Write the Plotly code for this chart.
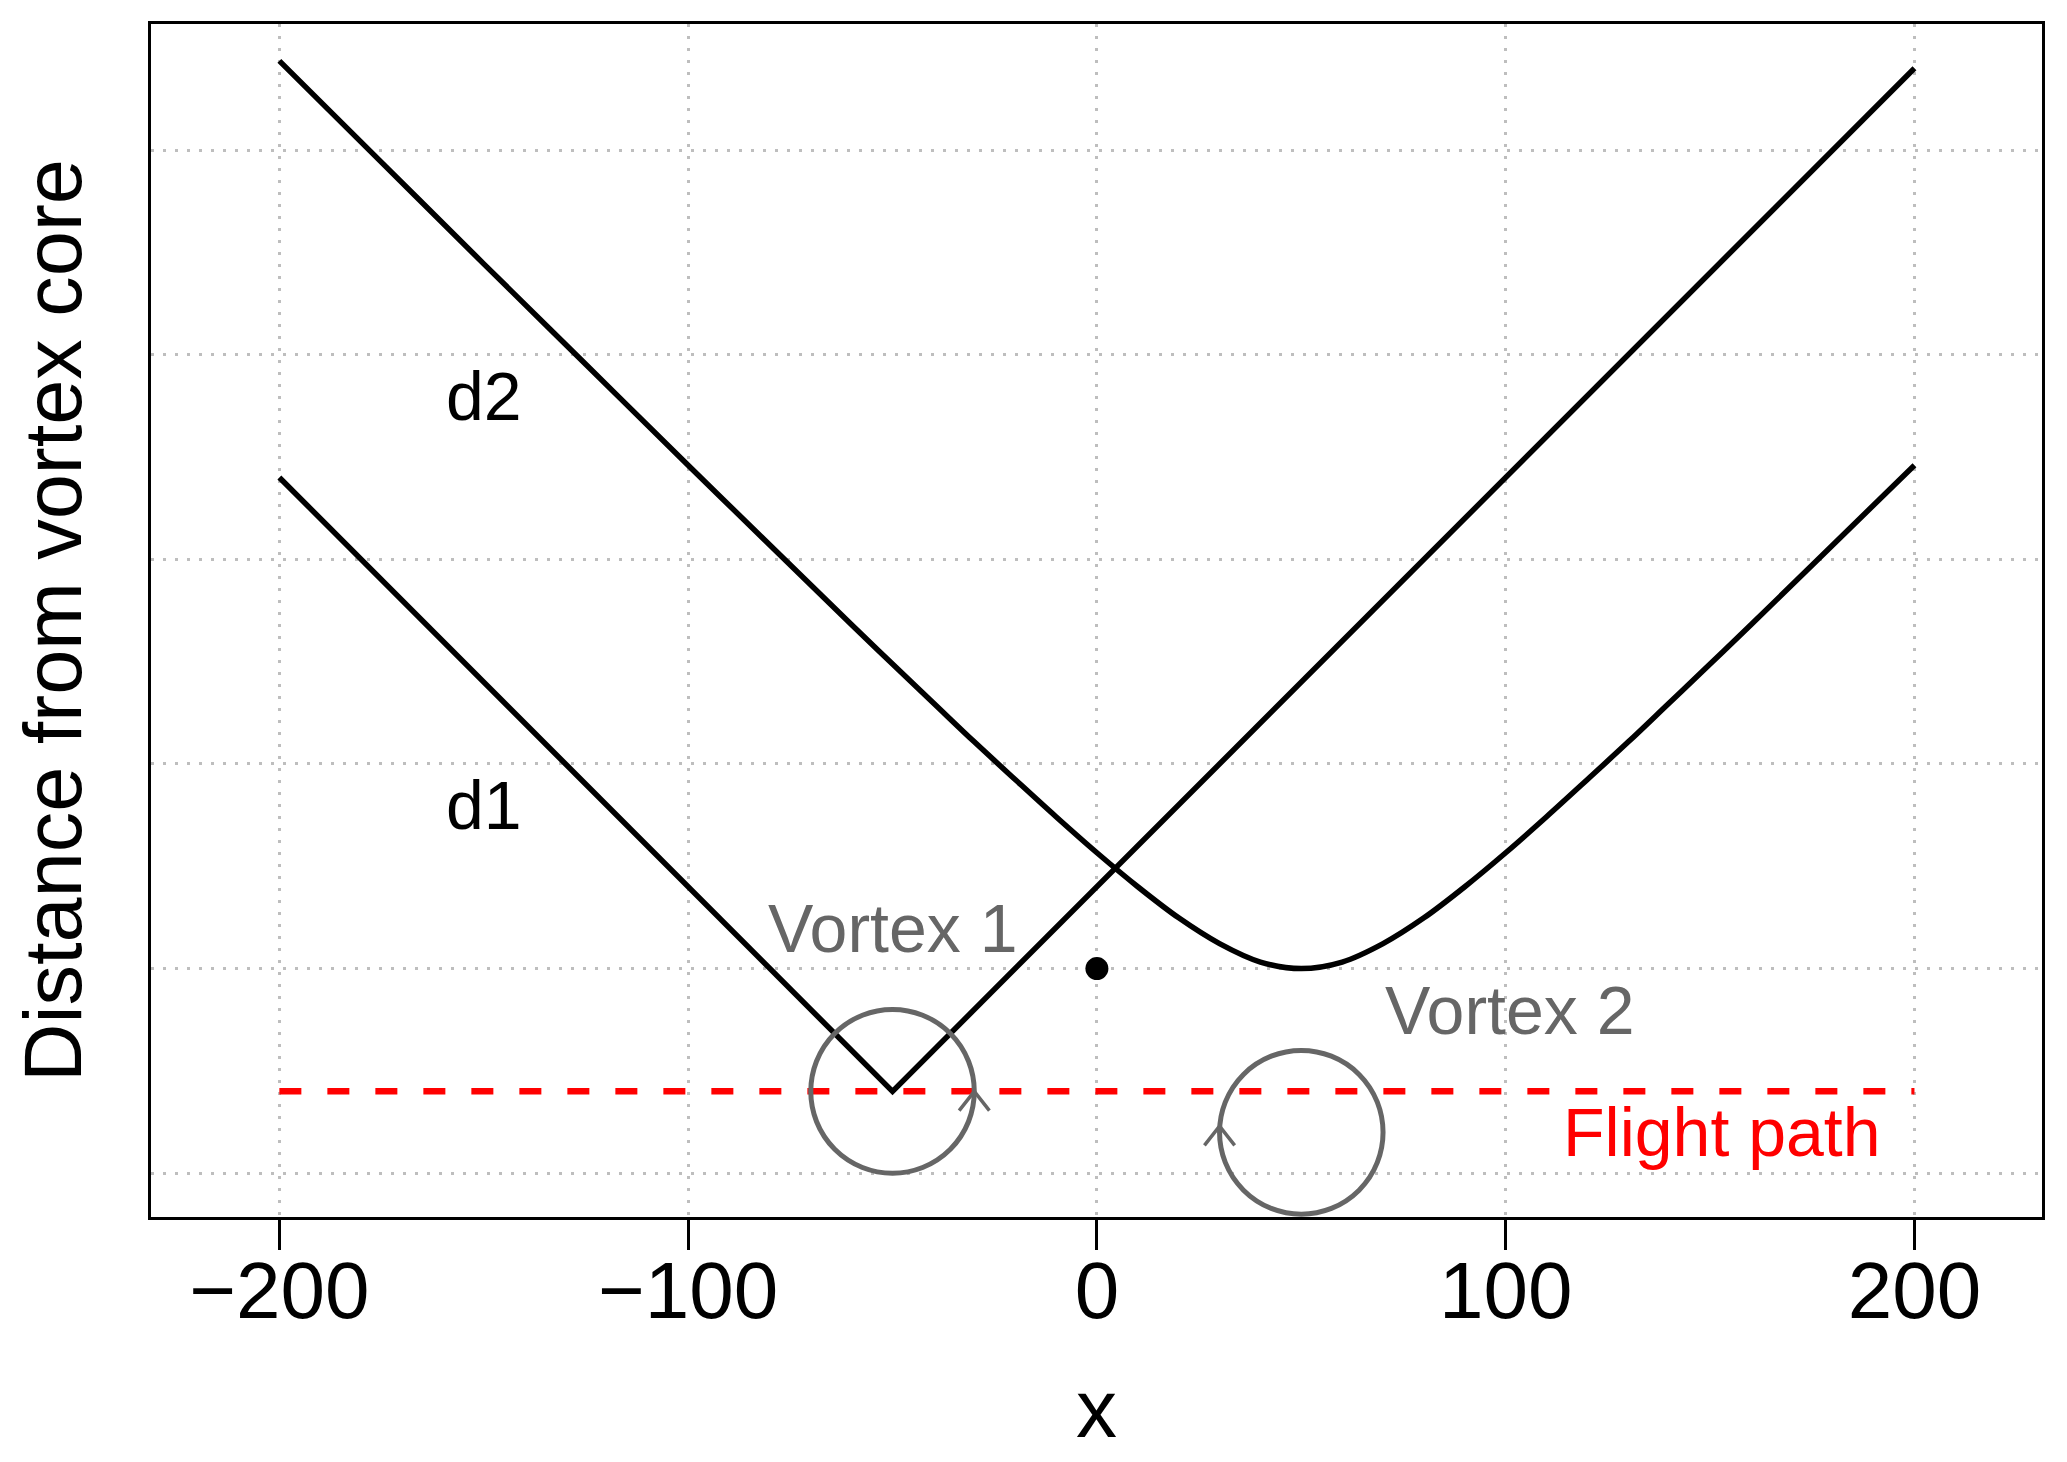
import plotly.graph_objects as go

# ---- data ----
d1_x = [-200, -50, 200]
d1_y = [170, 20, 270]

d2_x = [-200, -175, -150, -125, -100, -75, -60, -50, -40, -30, -20, -10, 0, 10, 20, 30, 40, 50,
        60, 70, 80, 90, 100, 110, 120, 130, 140, 150, 160, 175, 200]
d2_y = [271.8, 247.0, 222.2, 197.6, 173.0, 148.6, 134.0, 124.4, 114.9, 105.4, 96.2, 87.1, 78.3, 70.0,
        62.4, 56.1, 51.6, 50.0, 51.6, 56.1, 62.4, 70.0, 78.3, 87.1, 96.2, 105.4, 114.9, 124.4,
        134.0, 148.6, 173.0]

flight_x = [-200, 200]
flight_y = [20, 20]

point_x = [0]
point_y = [50]

vortex_x = [-50, 50]
vortex_y = [20, 10]
vortex_r = [20, 20]
arrow_x = [-30, 30]      # arrowhead apex on each circle
arrow_y = [20, 11.5]

x_ticks = [-200, -100, 0, 100, 200]
x_ticktext = ["\u2212200", "\u2212100", "0", "100", "200"]
y_grid = [0, 50, 100, 150, 200, 250]

labels = [
    dict(text="d2", x=-150, y=190, color="black"),
    dict(text="d1", x=-150, y=90, color="black"),
    dict(text="Vortex 1", x=-50, y=60, color="#666666"),
    dict(text="Vortex 2", x=101, y=40, color="#666666"),
    dict(text="Flight path", x=153, y=10, color="#FF0000"),
]

FONT = "Liberation Sans, Arial, Helvetica, sans-serif"
GRAY = "#666666"

fig = go.Figure()

fig.add_trace(go.Scatter(x=flight_x, y=flight_y, mode="lines",
                         line=dict(color="#FF0000", width=6.5, dash="22px,26px"),
                         showlegend=False, hoverinfo="skip"))
fig.add_trace(go.Scatter(x=d1_x, y=d1_y, mode="lines", name="d1",
                         line=dict(color="black", width=5.5), showlegend=False))
fig.add_trace(go.Scatter(x=d2_x, y=d2_y, mode="lines", name="d2",
                         line=dict(color="black", width=5.5, shape="spline", smoothing=1),
                         showlegend=False))
fig.add_trace(go.Scatter(x=point_x, y=point_y, mode="markers",
                         marker=dict(color="black", size=23), showlegend=False))

# vortex circles
for cx, cy, r in zip(vortex_x, vortex_y, vortex_r):
    fig.add_shape(type="circle", xref="x", yref="y",
                  x0=cx - r, x1=cx + r, y0=cy - r, y1=cy + r,
                  line=dict(color=GRAY, width=5))

# arrowheads (open chevrons pointing up)
head_dx, head_dy = 3.7, 4.7
for ax_, ay_ in zip(arrow_x, arrow_y):
    fig.add_trace(go.Scatter(x=[ax_ - head_dx, ax_, ax_ + head_dx],
                             y=[ay_ - head_dy, ay_, ay_ - head_dy],
                             mode="lines", line=dict(color=GRAY, width=3.5),
                             showlegend=False, hoverinfo="skip"))

for lb in labels:
    fig.add_annotation(x=lb["x"], y=lb["y"], text=lb["text"], showarrow=False,
                       xanchor="center", yanchor="middle",
                       font=dict(family=FONT, size=68, color=lb["color"]))

# the page body adds an 8px offset; size/margins compensate for it
fig.update_layout(
    width=2059, height=1454,
    margin=dict(l=143, r=25, t=16, b=245),
    paper_bgcolor="white", plot_bgcolor="white",
    font=dict(family=FONT, color="black"),
    showlegend=False,
)

fig.update_xaxes(
    range=[-231.4, 231.2], tickvals=x_ticks, ticktext=x_ticktext,
    ticks="outside", ticklen=30, tickwidth=3, tickcolor="black",
    tickfont=dict(size=80, family=FONT, color="black"),
    ticklabelstandoff=-28,
    showline=True, linewidth=3, linecolor="black", mirror=True,
    showgrid=True, gridcolor="#BEBEBE", gridwidth=3, griddash="3px,9px",
    zeroline=False,
    title=dict(text="x", font=dict(size=82, family=FONT), standoff=46),
)
fig.update_yaxes(
    range=[-10.7, 280.8], tickvals=y_grid, showticklabels=False, ticks="",
    showline=True, linewidth=3, linecolor="black", mirror=True,
    showgrid=True, gridcolor="#BEBEBE", gridwidth=3, griddash="3px,9px",
    zeroline=False,
    title=dict(text="Distance from vortex core", font=dict(size=81, family=FONT), standoff=55),
)

fig.write_html("out.html")
